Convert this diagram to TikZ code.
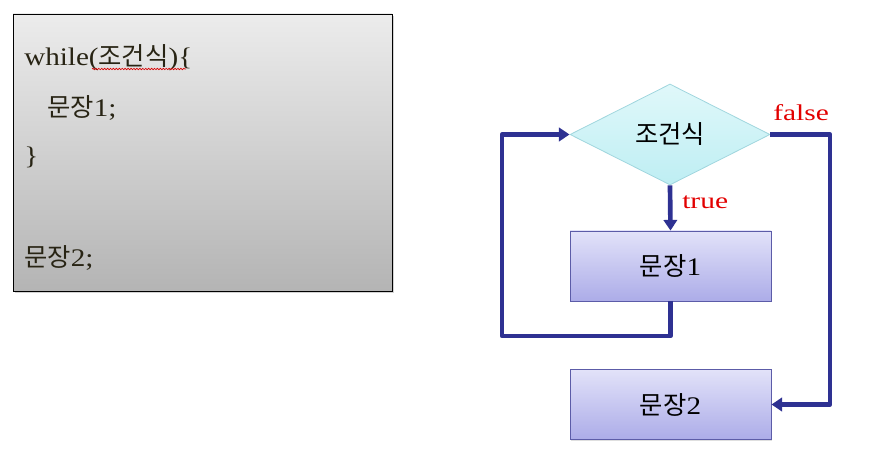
\documentclass[tikz,border=0pt]{standalone}
\usepackage{fontspec}
\setmainfont{Liberation Serif}[FakeStretch=1.15]
\newfontfamily\kr{Noto Sans CJK KR}
\newfontfamily\lblfont{Liberation Serif}[FakeStretch=1.3]
\usetikzlibrary{shapes.geometric,arrows.meta,shadows,decorations.pathmorphing}
\definecolor{navy}{RGB}{46,49,146}
\definecolor{boxtop}{RGB}{226,226,249}
\definecolor{boxbot}{RGB}{172,172,232}
\definecolor{boxline}{RGB}{92,92,168}
\definecolor{dtop}{RGB}{224,248,250}
\definecolor{dbot}{RGB}{190,238,243}
\definecolor{dline}{RGB}{160,214,222}
\definecolor{ctop}{RGB}{236,236,236}
\definecolor{cbot}{RGB}{180,180,180}
\definecolor{lblred}{RGB}{226,0,0}
\definecolor{codetext}{RGB}{40,36,20}
\tikzset{
  codebox/.style={draw=black, line width=0.6pt, top color=ctop, bottom color=cbot,
    drop shadow={shadow xshift=1.5pt, shadow yshift=-1.5pt, opacity=0.35}},
  codeline/.style={anchor=base west, inner sep=0pt, text=codetext, font=\fontsize{19}{23}\selectfont},
  decision/.style={diamond, aspect=1.98, minimum width=150pt, minimum height=75.75pt, inner sep=0pt,
    draw=dline, line width=0.6pt, top color=dtop, bottom color=dbot, font=\fontsize{19}{22}\selectfont\kr},
  stmt/.style={rectangle, minimum width=150.75pt, minimum height=52.5pt, inner sep=0pt,
    draw=boxline, line width=0.6pt, top color=boxtop, bottom color=boxbot,
    drop shadow={shadow xshift=1pt, shadow yshift=-1pt, opacity=0.25},
    font=\fontsize{19}{22}\selectfont},
  flow/.style={draw=navy, line width=3.5pt, line join=round, -{Triangle[length=8pt,width=10pt]}},
  lbl/.style={text=lblred, inner sep=0pt, anchor=base west, font=\fontsize{17}{20}\lblfont},
  squiggle/.style={draw=red!85!black, line width=0.5pt, decorate,
    decoration={snake, amplitude=0.55pt, segment length=2.2pt}}
}
\begin{document}
\begin{tikzpicture}[x=0.75pt,y=-0.75pt]
\useasboundingbox (0,0) rectangle (886,463);
% code box
\node[codebox, minimum width=284.25pt, minimum height=207.75pt] (code) at (202.5,152.5) {};
\node[codeline] (l1) at (24,66) {while({\kr 조건식})\{};
\node[codeline] (l2) at (47,117) {{\kr 문장}1;};
\node[codeline] (l3) at (24,165) {\}};
\node[codeline] (l4) at (24,267) {{\kr 문장}2;};
\draw[squiggle] (92,69) -- (186,69);
% flowchart
\node[decision] (cond) at (670,134.5) {조건식};
\node[stmt] (s1) at (670.5,266) {{\kr 문장}1};
\node[stmt] (s2) at (670.5,404.5) {{\kr 문장}2};
\coordinate (lb) at (502,336);
\coordinate (fc) at (830,404.5);
\draw[flow] (cond.south) -- (s1.north);
\draw[flow] (s1.south) |- (lb) |- (cond.west);
\draw[flow] (cond.east) -| (fc) -- (s2.east);
\node[lbl] (tf) at (773,121) {false};
\node[lbl] (tt) at (682,209) {true};
\end{tikzpicture}
\end{document}
